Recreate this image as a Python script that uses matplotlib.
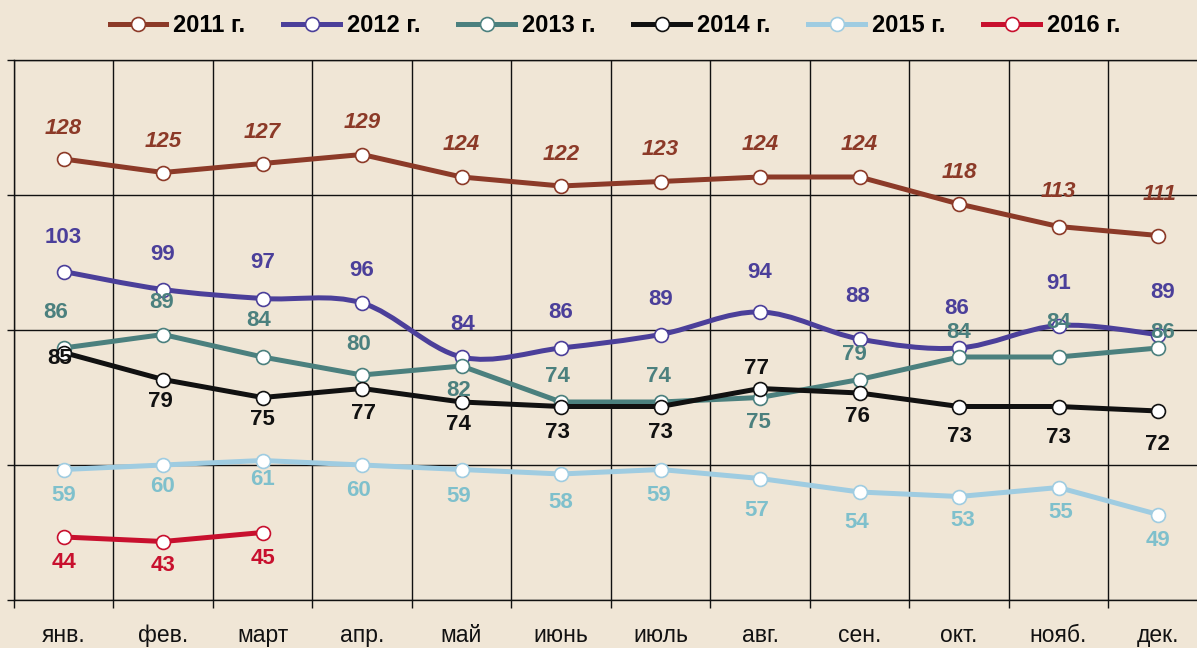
import numpy as np
import matplotlib
matplotlib.use("Agg")
import matplotlib.pyplot as plt
from matplotlib.path import Path
from matplotlib.patches import PathPatch
from matplotlib.lines import Line2D

plt.rcParams["font.family"] = ["Liberation Sans", "DejaVu Sans"]

# ---- data -------------------------------------------------------------
months = ["янв.", "фев.", "март", "апр.", "май", "июнь",
          "июль", "авг.", "сен.", "окт.", "нояб.", "дек."]
years = ["2011 г.", "2012 г.", "2013 г.", "2014 г.", "2015 г.", "2016 г."]

v2011 = [128, 125, 127, 129, 124, 122, 123, 124, 124, 118, 113, 111]
v2012 = [103, 99, 97, 96, 84, 86, 89, 94, 88, 86, 91, 89]
v2013 = [86, 89, 84, 80, 82, 74, 74, 75, 79, 84, 84, 86]
v2014 = [85, 79, 75, 77, 74, 73, 73, 77, 76, 73, 73, 72]
v2015 = [59, 60, 61, 60, 59, 58, 59, 57, 54, 53, 55, 49]
v2016 = [44, 43, 45]

# ---- styling ----------------------------------------------------------
BG = "#F0E6D6"
line_colors = ["#8C3A28", "#4B3F9A", "#4B807E", "#111111", "#9FCCE1", "#C8102E"]
text_colors = ["#8C3A28", "#4B3F9A", "#4B807E", "#111111", "#7FC0CC", "#C8102E"]
smoothed = [False, True, False, False, False, False]

# label offsets in pixels (dx, dy downward) for each point
label_offsets = [
    [(0, -30), (0, -31), (0, -31), (0, -32), (0, -32), (0, -31),
     (0, -32), (0, -32), (0, -32), (0, -31), (0, -35), (2, -41)],
    [(0, -34), (0, -35), (0, -36), (0, -32), (1, -32), (0, -35),
     (0, -35), (0, -39), (-2, -42), (-2, -40), (0, -42), (5, -42)],
    [(-8, -36), (-1, -32), (-4, -36), (-3, -30), (-3, 24), (-4, -25),
     (-2, -25), (-2, 25), (-5, -25), (0, -24), (0, -34), (5, -15)],
    [(-4, 6), (-3, 22), (0, 22), (1, 25), (-3, 23), (-4, 26),
     (0, 26), (-4, -20), (-2, 24), (0, 30), (0, 31), (-1, 33)],
    [(0, 26), (-1, 21), (0, 19), (-4, 26), (-3, 27), (0, 28),
     (-2, 26), (-3, 32), (-3, 30), (4, 24), (2, 25), (0, 26)],
    [(0, 25), (0, 24), (0, 26)],
]


def smooth_path(x, y):
    """Cubic Bezier path through the points (spreadsheet-style smoothing)."""
    pts = np.column_stack([x, y]).astype(float)
    n = len(pts)
    verts = [pts[0]]
    codes = [Path.MOVETO]
    for i in range(n - 1):
        p0 = pts[i - 1] if i > 0 else pts[i]
        p1 = pts[i]
        p2 = pts[i + 1]
        p3 = pts[i + 2] if i + 2 < n else pts[i + 1]
        c1 = p1 + (p2 - p0) / 6.0
        c2 = p2 - (p3 - p1) / 6.0
        verts += [c1, c2, p2]
        codes += [Path.CURVE4] * 3
    return Path(verts, codes)


fig = plt.figure(figsize=(11.97, 6.48), dpi=100, facecolor=BG)
ax = fig.add_axes([13.8 / 1197, 48 / 648, 1194 / 1197, 540 / 648], facecolor=BG)

all_series = [v2011, v2012, v2013, v2014, v2015, v2016]
LW = 3.6
MS = 10

handles = []
for k, (name, vals) in enumerate(zip(years, all_series)):
    x = np.arange(len(vals))
    col = line_colors[k]
    z = 3 + k
    if smoothed[k]:
        patch = PathPatch(smooth_path(x, vals), facecolor="none", edgecolor=col,
                          lw=LW, capstyle="round", joinstyle="round", zorder=z)
        ax.add_patch(patch)
    else:
        ax.plot(x, vals, color=col, lw=LW, solid_joinstyle="round",
                solid_capstyle="round", zorder=z)
    ax.plot(x, vals, linestyle="none", marker="o", ms=MS, mfc="white",
            mec=col, mew=1.2, zorder=z + 0.5)
    handles.append(Line2D([], [], color=col, lw=LW, marker="o", ms=MS,
                          mfc="white", mec=col, mew=1.2))

for k, vals in enumerate(all_series):
    style = "italic" if k == 0 else "normal"
    for i, v in enumerate(vals):
        dx, dy = label_offsets[k][i]
        ax.annotate(str(v), (i, v), xytext=(dx, -dy), textcoords="offset pixels",
                    ha="center", va="center", fontsize=16, fontweight="bold",
                    fontstyle=style, color=text_colors[k], zorder=20)

# ---- axes -------------------------------------------------------------
ax.set_xlim(-0.5, 11.5)
ax.set_ylim(30, 150)

ax.set_xticks(np.arange(12))
ax.set_xticklabels(months, fontsize=16.5, color="#111111")
ax.set_xticks(np.arange(-0.5, 11.0, 1.0), minor=True)
ax.tick_params(axis="x", which="major", length=0, pad=17.5)
ax.tick_params(axis="x", which="minor", length=6, width=1.0, color="#111111",
               direction="out")

ax.set_yticks([30, 60, 90, 120, 150])
ax.set_yticklabels([])
ax.tick_params(axis="y", which="major", length=5, width=1.0, color="#111111",
               direction="out")

ax.grid(axis="y", which="major", color="#111111", lw=1.0, zorder=1)
ax.grid(axis="x", which="minor", color="#111111", lw=1.0, zorder=1)
ax.set_axisbelow(True)

for side in ["left", "bottom", "top"]:
    ax.spines[side].set_color("#111111")
    ax.spines[side].set_linewidth(1.0)
ax.spines["right"].set_visible(False)

fig.legend(handles, years, loc="center", bbox_to_anchor=(615 / 1197, 1 - 26 / 648),
           ncol=6, frameon=False, prop={"size": 17, "weight": "bold"},
           handlelength=2.4, handletextpad=0.3, columnspacing=1.6)

fig.savefig("out.png", dpi=100, facecolor=BG)
